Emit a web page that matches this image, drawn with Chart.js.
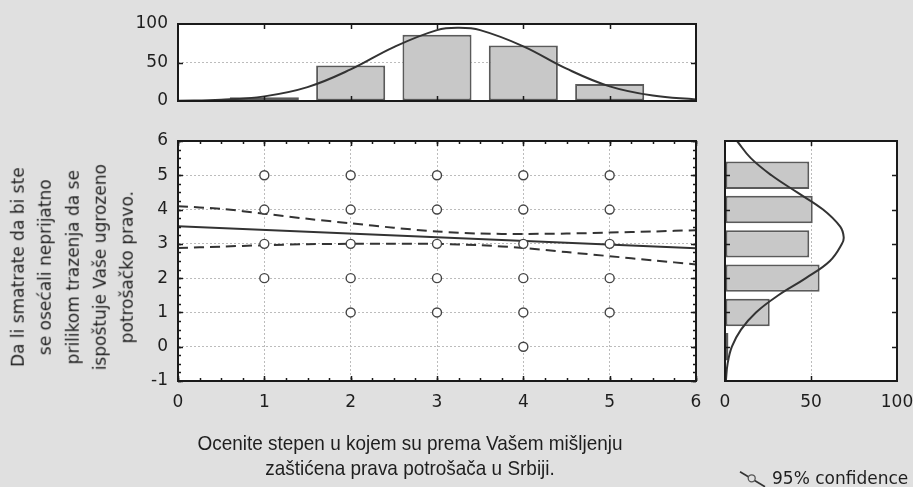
<!DOCTYPE html>
<html>
<head>
<meta charset="utf-8">
<script src="https://cdn.jsdelivr.net/npm/chart.js@4/dist/chart.umd.min.js"></script>
<style>
  html, body { margin: 0; padding: 0; background: #e0e0e0; width: 913px; height: 487px; overflow: hidden; }
  canvas { position: absolute; left: 0; top: 0; }
  .ttl { position: absolute; color: #1e1e1e; white-space: nowrap; text-align: center; }
</style>
</head>
<body>
<canvas id="main" width="913" height="487"></canvas>
<canvas id="top" width="913" height="487"></canvas>
<canvas id="right" width="913" height="487"></canvas>

<div id="ytitle" class="ttl" style="font: 17px 'DejaVu Sans'; line-height: 27.3px; width: 300px; height: 136.5px; left: -77px; top: 198.75px; transform: rotate(-90deg);">Da li smatrate da bi ste<br>se osećali neprijatno<br>prilikom trazenja da se<br>ispoštuje Vaše ugrozeno<br>potrošačko pravo.</div>
<div id="xtitle" class="ttl" style="font: 21px 'Liberation Sans'; line-height: 25px; width: 600px; left: 110px; top: 430px;">Ocenite stepen u kojem su prema Vašem mišljenju<br>zaštićena prava potrošača u Srbiji.</div>

<svg style="position:absolute; left:735px; top:465px;" width="35" height="25">
  <line x1="5" y1="6.7" x2="30" y2="21.7" stroke="#333" stroke-width="1.6"/>
  <circle cx="16.7" cy="13.3" r="3.5" fill="#e0e0e0" stroke="#555" stroke-width="1.3"/>
</svg>
<div id="legend" class="ttl" style="font: 17px 'DejaVu Sans'; line-height: 17px; left: 772px; top: 470px;">95% confidence</div>

<script>
// ---------- data ----------
const ptsX = [1,1,1,1, 2,2,2,2,2, 3,3,3,3,3, 4,4,4,4,4,4, 5,5,5,5,5];
const ptsY = [2,3,4,5, 1,2,3,4,5, 1,2,3,4,5, 0,1,2,3,4,5, 1,2,3,4,5];
const fitX = [0, 6];
const fitY = [3.51, 2.87];
const bandX     = [0,    0.5,  1,    1.5,  2,    2.5,  3,    3.5,  4,    4.5,  5,    5.5,  6];
const bandUpper = [4.10, 4.02, 3.88, 3.73, 3.60, 3.47, 3.36, 3.30, 3.29, 3.30, 3.33, 3.36, 3.40];
const bandLower = [2.88, 2.92, 2.96, 2.99, 3.00, 3.00, 3.00, 2.96, 2.88, 2.76, 2.64, 2.52, 2.40];

const topCats   = [1, 2, 3, 4, 5];
const topCounts = [5, 46, 86, 72, 22];
const topCurveX = [0,   0.5, 1, 1.5, 2,  2.5, 3,  3.25, 3.5, 4,  4.5, 5,  5.5, 6];
const topCurveY = [0.3, 1.6, 6, 18,  41, 70,  92, 95,   92,  71, 42,  19, 7,   2];

const rightCats   = [0, 1, 2, 3, 4, 5];
const rightCounts = [2, 26, 55, 49, 51, 49];
const rightCurvePos = [-1,  -0.5, 0, 0.5, 1,  1.5, 2,  2.5, 3,  3.2, 3.5, 4,  4.5, 5,  5.5, 6];
const rightCurveVal = [0.5, 1.5,  4, 9.3, 18, 31,  47, 61,  68, 69,  67,  57, 42,  27, 15,  7];

const xTickVals = [0, 1, 2, 3, 4, 5, 6];
const yTickVals = [-1, 0, 1, 2, 3, 4, 5, 6];
const histTickVals = [0, 50, 100];

// ---------- helpers ----------
const zip = (a, b) => a.map((v, i) => ({x: v, y: b[i]}));
const FONT = {family: 'DejaVu Sans', size: 17};
const INK = '#1e1e1e';
const GRID = '#bcbcbc';
function range(a, b, s) { const r = []; for (let v = a; v <= b + 1e-9; v += s) r.push(+v.toFixed(4)); return r; }

const frameTicks = {
  id: 'frameTicks',
  afterDatasetsDraw(chart, args, opts) {
    const {ctx, chartArea: a} = chart;
    ctx.save();
    ctx.strokeStyle = '#1a1a1a';
    ctx.lineWidth = 1.5;
    for (const t of (opts.marks || [])) {
      const sc = chart.scales[t.scale];
      for (const v of t.values) {
        const p = Math.round(sc.getPixelForValue(v)) + 0.5;
        for (const side of t.sides) {
          ctx.beginPath();
          if (side === 'top')    { ctx.moveTo(p, a.top);    ctx.lineTo(p, a.top + t.len); }
          if (side === 'bottom') { ctx.moveTo(p, a.bottom); ctx.lineTo(p, a.bottom - t.len); }
          if (side === 'left')   { ctx.moveTo(a.left, p);   ctx.lineTo(a.left + t.len, p); }
          if (side === 'right')  { ctx.moveTo(a.right, p);  ctx.lineTo(a.right - t.len, p); }
          ctx.stroke();
        }
      }
    }
    ctx.lineWidth = 2;
    ctx.strokeRect(a.left, a.top, a.width, a.height);
    ctx.restore();
  }
};

const fixX = h => s => { s.height = h; s.paddingLeft = 0; s.paddingRight = 0; };
const fixY = w => s => { s.width = w; s.paddingTop = 0; s.paddingBottom = 0; };
const plotBg = {
  id: 'plotBg',
  beforeDraw(chart) {
    const {ctx, chartArea: a} = chart;
    ctx.save(); ctx.fillStyle = '#ffffff';
    ctx.fillRect(a.left, a.top, a.width, a.height); ctx.restore();
  }
};

// ---------- main scatter ----------
new Chart(document.getElementById('main'), {
  type: 'scatter',
  data: {
    datasets: [
      { type: 'scatter', data: zip(ptsX, ptsY), pointRadius: 4.5, pointBorderWidth: 1.4,
        pointBorderColor: '#444', pointBackgroundColor: '#ffffff', order: 0 },
      { type: 'line', data: zip(fitX, fitY), borderColor: '#333', borderWidth: 2,
        pointRadius: 0, fill: false, order: 1 },
      { type: 'line', data: zip(bandX, bandUpper), borderColor: '#333', borderWidth: 2,
        borderDash: [10, 6], pointRadius: 0, tension: 0.3, fill: false, order: 1 },
      { type: 'line', data: zip(bandX, bandLower), borderColor: '#333', borderWidth: 2,
        borderDash: [10, 6], pointRadius: 0, tension: 0.3, fill: false, order: 1 }
    ]
  },
  options: {
    responsive: false, animation: false, devicePixelRatio: 1,
    layout: { padding: { left: 0, right: 217, top: 141, bottom: 66 } },
    plugins: { legend: { display: false }, tooltip: { enabled: false },
      frameTicks: { marks: [
        { scale: 'x', values: xTickVals, sides: ['top', 'bottom'], len: 5 },
        { scale: 'x', values: range(0, 6, 0.25), sides: ['top', 'bottom'], len: 3 },
        { scale: 'y', values: yTickVals, sides: ['left', 'right'], len: 5 },
        { scale: 'y', values: range(-1, 6, 0.25), sides: ['left', 'right'], len: 3 }
      ] } },
    scales: {
      x: { type: 'linear', min: 0, max: 6, afterFit: fixX(40),
        afterBuildTicks: s => { s.ticks = xTickVals.map(v => ({value: v})); },
        ticks: { font: FONT, color: INK, padding: 11, maxRotation: 0 },
        grid: { color: GRID, drawTicks: false }, border: { display: false, dash: [2, 2] } },
      y: { type: 'linear', min: -1, max: 6, afterFit: fixY(178),
        afterBuildTicks: s => { s.ticks = yTickVals.map(v => ({value: v})); },
        ticks: { font: FONT, color: INK, padding: 10 },
        grid: { color: GRID, drawTicks: false }, border: { display: false, dash: [2, 2] } }
    }
  },
  plugins: [plotBg, frameTicks]
});

// ---------- top histogram ----------
new Chart(document.getElementById('top'), {
  type: 'bar',
  data: {
    datasets: [
      { type: 'bar', data: zip(topCats, topCounts), backgroundColor: '#c8c8c8',
        borderColor: '#5a5a5a', borderWidth: 2, borderSkipped: false,
        barPercentage: 0.8, categoryPercentage: 1.0, order: 1 },
      { type: 'line', data: zip(topCurveX, topCurveY), borderColor: '#333', borderWidth: 2,
        pointRadius: 0, tension: 0.4, fill: false, order: 0 }
    ]
  },
  options: {
    responsive: false, animation: false, devicePixelRatio: 1,
    layout: { padding: { left: 0, right: 217, top: 24, bottom: 386 } },
    plugins: { legend: { display: false }, tooltip: { enabled: false },
      frameTicks: { marks: [
        { scale: 'x', values: topCats, sides: ['top', 'bottom'], len: 5 },
        { scale: 'y', values: [50], sides: ['left', 'right'], len: 5 }
      ] } },
    scales: {
      x: { type: 'linear', min: 0, max: 6, offset: false, afterFit: fixX(0),
        ticks: { display: false }, grid: { display: false }, border: { display: false } },
      y: { type: 'linear', min: 0, max: 100, afterFit: fixY(178),
        afterBuildTicks: s => { s.ticks = histTickVals.map(v => ({value: v})); },
        ticks: { font: FONT, color: INK, padding: 10 },
        grid: { color: GRID, drawTicks: false }, border: { display: false, dash: [2, 2] } }
    }
  },
  plugins: [plotBg, frameTicks]
});

// ---------- right histogram ----------
new Chart(document.getElementById('right'), {
  type: 'bar',
  data: {
    datasets: [
      { type: 'bar', data: zip(rightCounts, rightCats), backgroundColor: '#c8c8c8',
        borderColor: '#5a5a5a', borderWidth: 2, borderSkipped: false,
        barPercentage: 0.8, categoryPercentage: 1.0, order: 1 },
      { type: 'line', indexAxis: 'y', data: zip(rightCurveVal, rightCurvePos), borderColor: '#333',
        borderWidth: 2, pointRadius: 0, tension: 0.4, fill: false, order: 0 }
    ]
  },
  options: {
    indexAxis: 'y',
    responsive: false, animation: false, devicePixelRatio: 1,
    layout: { padding: { left: 725, right: 16, top: 141, bottom: 66 } },
    plugins: { legend: { display: false }, tooltip: { enabled: false },
      frameTicks: { marks: [
        { scale: 'y', values: rightCats, sides: ['left', 'right'], len: 5 },
        { scale: 'x', values: [50], sides: ['top', 'bottom'], len: 5 }
      ] } },
    scales: {
      x: { type: 'linear', min: 0, max: 100, afterFit: fixX(40),
        afterBuildTicks: s => { s.ticks = histTickVals.map(v => ({value: v})); },
        ticks: { font: FONT, color: INK, padding: 11, maxRotation: 0 },
        grid: { color: GRID, drawTicks: false }, border: { display: false, dash: [2, 2] } },
      y: { type: 'linear', min: -1, max: 6, offset: false, afterFit: fixY(0),
        ticks: { display: false }, grid: { display: false }, border: { display: false } }
    }
  },
  plugins: [plotBg, frameTicks]
});

// condense the x-axis title to the reference width
(function () {
  const el = document.getElementById('xtitle');
  const c = document.createElement('canvas').getContext('2d');
  c.font = "21px 'Liberation Sans'";
  const w = c.measureText('Ocenite stepen u kojem su prema Vašem mišljenju').width;
  const k = 425 / w;
  el.style.transform = 'scaleX(' + k.toFixed(3) + ')';
  el.style.left = (410 - 300) + 'px';
})();
</script>
</body>
</html>
